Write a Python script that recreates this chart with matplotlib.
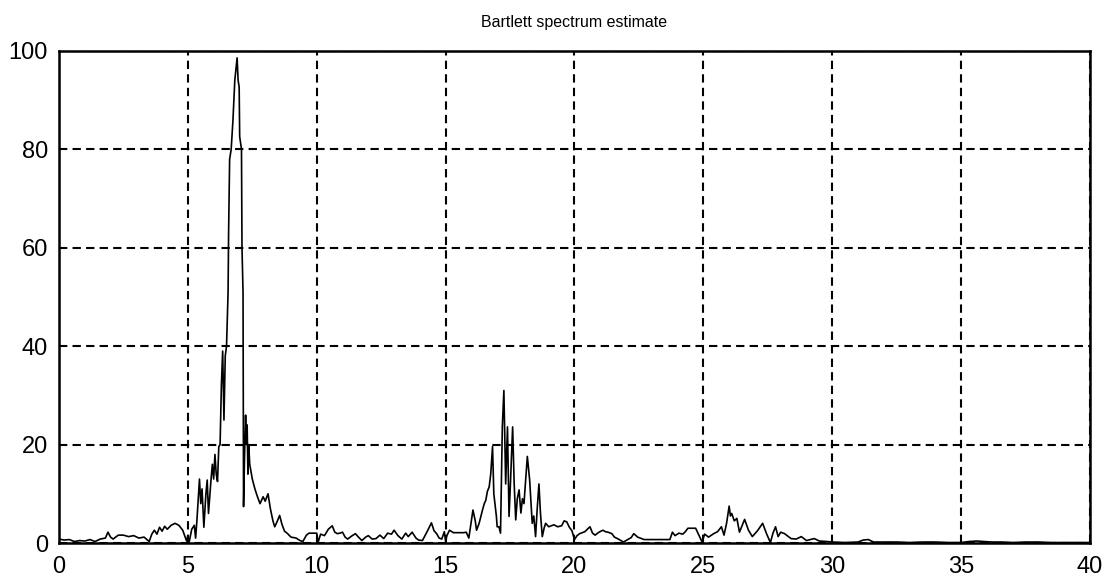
import matplotlib
matplotlib.use("Agg")
import matplotlib.pyplot as plt

# frequency / power pairs
freq_low = [0.0, 0.2, 0.4, 0.6, 0.8, 1.0, 1.2, 1.4, 1.6, 1.8, 1.9, 2.0, 2.1, 2.3, 2.5, 2.7,
            2.9, 3.1, 3.3, 3.5, 3.6, 3.7, 3.8, 3.9, 4.0, 4.1, 4.2, 4.35, 4.5, 4.65, 4.8,
            4.95, 5.0, 5.05, 5.15, 5.25, 5.3, 5.35, 5.45, 5.5, 5.55, 5.62, 5.7, 5.75, 5.8,
            5.9, 5.95, 6.0, 6.05, 6.1, 6.15, 6.2, 6.25, 6.3, 6.35, 6.4, 6.45, 6.5, 6.56,
            6.58, 6.62, 6.68, 6.75, 6.82, 6.91, 6.95, 6.99, 7.01, 7.08, 7.1, 7.14, 7.16,
            7.2, 7.24, 7.27, 7.3, 7.33, 7.36, 7.4, 7.5, 7.6, 7.7, 7.8, 7.92, 8.0, 8.11,
            8.2, 8.3, 8.37, 8.45, 8.56, 8.65, 8.75, 8.85, 9.0, 9.2, 9.35, 9.46, 9.6, 9.7,
            9.9, 10.0]
power_low = [0.8, 0.6, 0.7, 0.3, 0.5, 0.4, 0.7, 0.3, 0.8, 1.0, 2.2, 1.2, 0.8, 1.6, 1.6, 1.3,
             1.5, 1.0, 1.2, 0.3, 1.8, 2.6, 1.8, 3.2, 2.4, 3.4, 2.8, 3.6, 4.0, 3.6, 2.6,
             0.4, 1.5, 0.2, 2.8, 3.6, 1.0, 4.5, 13.0, 8.0, 11.0, 3.2, 10.0, 12.8, 6.0,
             13.0, 16.0, 13.0, 18.0, 14.0, 12.5, 19.6, 20.0, 32.0, 39.0, 25.0, 38.0, 40.0, 51.0,
             63.0, 78.0, 80.0, 86.0, 94.0, 98.6, 94.0, 92.7, 82.6, 80.0, 60.0, 51.0, 7.4,
             18.0, 26.0, 20.0, 24.0, 14.0, 20.0, 16.0, 13.0, 11.0, 9.4, 8.0, 9.4, 8.5, 10.0,
             7.0, 4.5, 3.3, 4.2, 5.6, 3.8, 2.4, 2.0, 1.2, 1.0, 0.5, 0.3, 1.6, 2.0,
             2.0, 2.0]

freq_mid = [10.05, 10.15, 10.3, 10.45, 10.6, 10.7, 10.8, 10.9, 11.0, 11.1, 11.2, 11.35, 11.5,
            11.6, 11.75, 11.9, 12.0, 12.15, 12.3, 12.45, 12.6, 12.75, 12.9, 13.0, 13.15,
            13.3, 13.45, 13.55, 13.7, 13.85, 13.95, 14.1, 14.2, 14.3, 14.45, 14.55, 14.65,
            14.75, 14.85, 14.95, 15.0, 15.05, 15.15, 15.3, 15.5, 15.7, 15.8, 15.9, 16.06,
            16.15, 16.2, 16.3, 16.43, 16.5, 16.56, 16.62, 16.69, 16.75, 16.82, 16.87, 16.97,
            17.0, 17.07, 17.13, 17.2, 17.26, 17.33, 17.4, 17.46, 17.52, 17.6, 17.66, 17.72,
            17.78, 17.85, 17.92, 17.98, 18.04, 18.17, 18.22, 18.26, 18.36, 18.42, 18.49,
            18.55, 18.62, 18.68, 18.75, 18.82, 18.88, 19.0, 19.1, 19.2, 19.35, 19.5, 19.6,
            19.7, 19.8, 19.9, 20.0]
power_mid = [0.1, 1.8, 1.5, 2.8, 3.5, 2.2, 1.9, 2.0, 2.2, 1.2, 0.8, 1.4, 1.9,
             1.3, 0.5, 1.2, 1.5, 0.8, 0.9, 1.6, 0.9, 2.0, 1.8, 2.6, 1.5,
             0.8, 2.0, 1.3, 2.2, 1.0, 0.6, 0.5, 1.5, 2.5, 4.1, 2.5, 1.9,
             1.0, 0.8, 2.3, 0.3, 1.5, 2.6, 2.1, 2.1, 2.1, 2.2, 1.0, 6.7,
             4.5, 2.6, 4.0, 6.7, 8.0, 8.7, 10.5, 11.4, 14.0, 19.6, 10.0, 5.4,
             3.3, 3.3, 2.0, 23.6, 31.0, 12.0, 23.6, 5.4, 12.8, 23.6, 12.0, 4.7,
             9.0, 10.8, 6.1, 9.0, 8.0, 17.6, 15.0, 12.8, 4.0, 5.5, 1.3,
             6.7, 12.0, 6.0, 1.3, 3.0, 4.0, 3.3, 3.5, 3.7, 3.3, 3.5, 4.5,
             4.3, 3.2, 2.5, 0.7]

freq_high = [20.1, 20.2, 20.4, 20.6, 20.7, 20.8, 20.95, 21.1, 21.2, 21.3, 21.45, 21.55, 21.7,
             21.9, 22.1, 22.2, 22.3, 22.45, 22.7, 23.0, 23.3, 23.7, 23.8, 23.9, 24.05, 24.2,
             24.3, 24.4, 24.7, 24.95, 25.05, 25.2, 25.4, 25.55, 25.7, 25.8, 25.9, 26.0,
             26.05, 26.1, 26.2, 26.3, 26.4, 26.6, 26.75, 26.9, 27.1, 27.3, 27.45, 27.6,
             27.7, 27.8, 27.9, 28.0, 28.15, 28.4, 28.6, 28.8, 29.0, 29.15, 29.3, 29.5,
             29.8, 30.0, 30.5, 31.0, 31.2, 31.4, 31.6, 32.0, 32.5, 33.0, 33.5, 34.0, 34.5,
             35.0, 35.3, 35.6, 35.9, 36.2, 36.6, 37.0, 37.5, 38.0, 38.5, 39.0, 39.5, 40.0]
power_high = [1.5, 1.9, 2.3, 3.3, 2.0, 1.6, 2.2, 2.6, 2.3, 2.2, 1.9, 1.2, 0.8,
              0.2, 0.8, 1.1, 1.9, 1.2, 0.7, 0.7, 0.7, 0.7, 2.2, 1.5, 2.0, 1.8,
              2.3, 3.0, 3.0, 0.2, 1.8, 1.2, 1.9, 2.3, 3.3, 1.6, 4.0, 7.5,
              5.5, 6.0, 4.5, 5.0, 2.2, 4.8, 2.6, 1.3, 2.5, 4.0, 1.9, 0.1,
              2.0, 3.3, 1.3, 2.2, 1.9, 0.9, 0.8, 1.3, 0.5, 0.7, 0.9, 0.4,
              0.3, 0.2, 0.1, 0.2, 0.6, 0.7, 0.2, 0.2, 0.2, 0.1, 0.2, 0.2, 0.1,
              0.1, 0.3, 0.4, 0.3, 0.2, 0.2, 0.1, 0.2, 0.2, 0.1, 0.1, 0.1, 0.1]

freq = freq_low + freq_mid + freq_high
power = power_low + power_mid + power_high

x_ticks = [0, 5, 10, 15, 20, 25, 30, 35, 40]
y_ticks = [0, 20, 40, 60, 80, 100]

plt.rcParams['font.family'] = ['Liberation Sans', 'DejaVu Sans']

fig = plt.figure(figsize=(11.11, 5.82), dpi=100)
ax = fig.add_axes([0.0531, 0.067, 0.928, 0.8454])

ax.plot(freq, power, color='black', linewidth=1.2)

ax.set_xlim(0, 40)
ax.set_ylim(0, 100)
ax.set_xticks(x_ticks)
ax.set_yticks(y_ticks)
ax.tick_params(direction='in', length=0, labelsize=17)
ax.tick_params(axis='x', pad=9)
ax.tick_params(axis='y', pad=8)

ax.grid(True, color='black', linestyle=(0, (4, 2.5)), linewidth=1.5)
for side in ax.spines.values():
    side.set_linewidth(1.8)

ax.set_title('Bartlett spectrum estimate', fontsize=11.5, pad=17)

fig.savefig('out.png', dpi=100)
